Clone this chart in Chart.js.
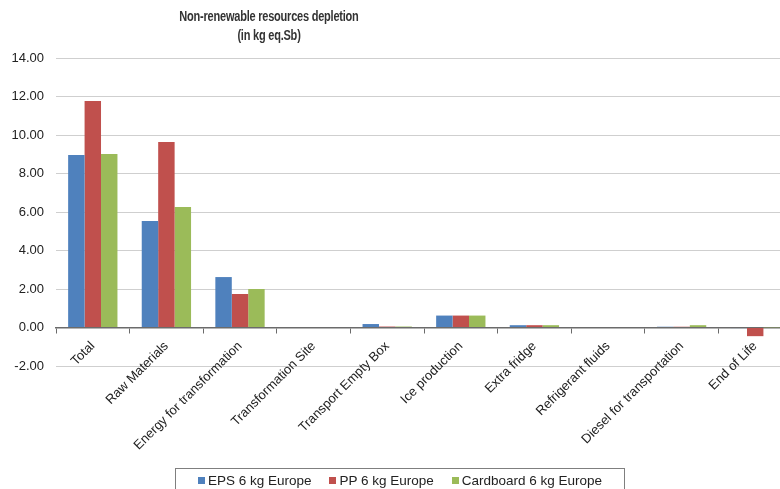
<!DOCTYPE html>
<html>
<head>
<meta charset="utf-8">
<script src="https://cdn.jsdelivr.net/npm/chart.js@4/dist/chart.umd.min.js"></script>
<style>
  body { margin: 0; overflow: hidden; background: #fff; font-family: 'Liberation Sans', Arial, sans-serif; }
  #wrap { position: relative; width: 780px; height: 489px; overflow: hidden; }
  #titre { position: absolute; left: 119px; top: 7px; width: 300px; text-align: center; white-space: nowrap;
           font: bold 14.5px 'Liberation Sans', Arial, sans-serif; letter-spacing: -0.3px; color: #333;
           line-height: 19px; transform: scaleX(0.76); transform-origin: 150px 0; }
  #legende { position: absolute; left: 175px; top: 468px; width: 450px; height: 30px; box-sizing: border-box;
             border: 1px solid #7f7f7f; font-size: 13.5px; color: #222; text-align: center; padding-top: 4px; }
  #legende span.item { margin: 0 9px; white-space: nowrap; }
  #legende i { display: inline-block; width: 7px; height: 7px; margin-right: 3px; vertical-align: 1px; }
</style>
</head>
<body>
<div id="wrap">
  <canvas id="grafica" width="793" height="489" style="width:793px;height:489px"></canvas>
  <div id="titre">Non-renewable resources depletion<br>(in kg eq.Sb)</div>
  <div id="legende"></div>
</div>
<script>
// categorias y series
const categorias = ['Total', 'Raw Materials', 'Energy for transformation', 'Transformation Site',
  'Transport Empty Box', 'Ice production', 'Extra fridge', 'Refrigerant fluids',
  'Diesel for transportation', 'End of Life'];
const series = ['EPS 6 kg Europe', 'PP 6 kg Europe', 'Cardboard 6 kg Europe'];
const eps = [8.96, 5.53, 2.62, 0.0, 0.18, 0.62, 0.12, 0.0, 0.04, -0.03];
const pp = [11.77, 9.64, 1.74, 0.0, 0.05, 0.62, 0.12, 0.0, 0.04, -0.45];
const cardboard = [9.01, 6.26, 2.0, 0.0, 0.05, 0.62, 0.12, 0.0, 0.12, 0.01];
const colores = ['#4F81BD', '#C0504D', '#9BBB59'];
const ticksY = [14, 12, 10, 8, 6, 4, 2, 0, -2];

const valores = [eps, pp, cardboard];

const chart = new Chart(document.getElementById('grafica').getContext('2d'), {
  type: 'bar',
  data: {
    labels: categorias,
    datasets: series.map((s, i) => ({
      label: s,
      data: valores[i],
      backgroundColor: colores[i],
      borderWidth: 0,
      barPercentage: 1,
      categoryPercentage: 0.67
    }))
  },
  options: {
    responsive: false,
    animation: false,
    layout: { padding: { top: 58, bottom: 123, left: 0, right: 1 } },
    plugins: { legend: { display: false }, title: { display: false }, tooltip: { enabled: false } },
    scales: {
      x: {
        position: { y: 0 },
        offset: true,
        border: { display: true, color: '#6b6b6b', width: 1.5 },
        grid: { display: true, drawOnChartArea: false, drawTicks: true, tickLength: 5, color: '#6b6b6b' },
        ticks: {
          minRotation: 45, maxRotation: 45, padding: 6, autoSkip: false,
          color: '#222', font: { family: "'Liberation Sans', Arial, sans-serif", size: 13 }
        }
      },
      y: {
        min: Math.min(...ticksY),
        max: Math.max(...ticksY),
        afterFit: (s) => { s.width = 56; },
        afterBuildTicks: (s) => { s.ticks = ticksY.map(v => ({ value: v })); },
        border: { display: false },
        grid: { drawTicks: false, color: '#cfcfcf', lineWidth: 1 },
        ticks: {
          padding: 12, color: '#222',
          font: { family: "'Liberation Sans', Arial, sans-serif", size: 13 },
          callback: (v) => Number(v).toFixed(2)
        }
      }
    }
  }
});

// leyenda en HTML con recuadro
document.getElementById('legende').innerHTML = series.map((s, i) =>
  `<span class="item"><i style="background:${colores[i]}"></i>${s}</span>`).join('');
</script>
</body>
</html>
